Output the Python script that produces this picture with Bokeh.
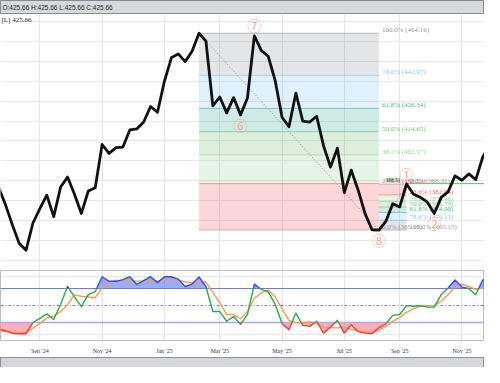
import numpy as np
from bokeh.plotting import figure
from bokeh.models import Range1d
from bokeh.layouts import column
from bokeh.core.properties import value
from bokeh.embed import file_html
from bokeh.resources import INLINE

# ---------------- data ----------------
close = [386.9, 378.2, 368.0, 358.5, 355.0, 368.7, 375.9, 382.7, 371.9, 386.8,
         391.8, 383.2, 373.5, 384.8, 386.4, 408.2, 403.7, 406.6, 406.9, 415.5,
         416.0, 419.5, 427.3, 424.4, 440.0, 451.8, 453.8, 449.9, 455.1, 464.16,
         460.2, 427.6, 432.1, 424.1, 431.8, 423.1, 431.6, 462.8, 455.5, 452.6,
         440.5, 421.9, 417.1, 434.0, 419.9, 419.5, 422.4, 407.5, 396.9, 406.3,
         384.0, 395.3, 385.2, 373.4, 365.3, 365.15, 369.5, 378.4, 376.8, 388.31,
         383.2, 381.6, 379.2, 373.5, 381.6, 384.4, 392.4, 390.2, 393.4, 390.5,
         401.8, 408.2]

stoch_k = [9.2, 6.2, 1.5, 1.0, 1.0, 20.5, 27.7, 35.4, 25.7, 52.3,
           83.0, 65.0, 48.0, 69.0, 74.0, 100.0, 92.0, 92.0, 95.0, 100.0,
           86.6, 93.4, 100.0, 89.7, 100.0, 100.0, 95.8, 83.0, 87.2, 99.5,
           83.0, 39.5, 39.5, 22.6, 30.8, 17.4, 34.3, 87.2, 78.0, 73.8,
           52.3, 18.9, 7.7, 36.9, 15.4, 13.8, 22.6, 2.0, 12.3, 24.2,
           2.0, 16.5, 4.6, 2.0, 1.1, 11.2, 18.0, 32.8, 34.3, 49.7,
           48.8, 49.7, 47.2, 47.2, 68.8, 80.5, 94.3, 82.0, 79.5, 68.8,
           94.3, 94.0]

stoch_d = [7.7, 4.6, 3.5, 3.0, 2.6, 10.8, 18.5, 28.5, 31.5, 39.5,
           51.5, 68.5, 66.0, 65.0, 63.5, 80.5, 89.0, 94.0, 92.3, 93.4,
           92.3, 92.3, 93.4, 92.3, 94.3, 95.8, 94.3, 90.8, 89.2, 90.8,
           90.8, 72.8, 55.0, 34.3, 34.3, 26.6, 39.5, 62.6, 71.8, 77.0,
           65.0, 44.6, 24.2, 20.0, 20.0, 21.5, 18.9, 12.3, 11.2, 11.2,
           12.3, 8.8, 6.2, 3.5, 2.6, 7.7, 13.8, 22.6, 29.2, 38.0,
           44.6, 48.8, 49.7, 49.7, 57.4, 68.8, 83.0, 87.2, 83.0, 78.0,
           80.5, 83.0]

bar_index = list(range(len(close)))

tick_positions = [6, 15, 24, 32, 41, 50, 58, 67]
tick_labels = ["Sep '24", "Nov '24", "Jan '25", "Mar '25",
               "May '25", "Jul '25", "Sep '25", "Nov '25"]
price_grid = [350, 360, 370, 380, 390, 400, 410, 420, 430, 440, 450, 460, 470]
osc_grid = [0, 100]
osc_upper, osc_mid, osc_lower = 80, 50, 20

fib_levels = [0.0, 0.236, 0.382, 0.5, 0.618, 0.786, 1.0]
fib_colors = ["#787b86", "#f23645", "#81c784", "#4caf50", "#089981", "#64b5f6", "#787b86"]
fib_anchors = [(29, 55), (55, 59)]

pivot_bar = 59
pivot_price = 388.51

wave_text = ["⑦", "⑥", "⑧", "①", "②"]
wave_bars = [37, 35, 55, 59, 63]
wave_side = ["above", "below", "below", "above", "below"]

header_text = "O:425.66 H:425.66 L:425.66 C:425.66"
legend_text = "[L] 425.66"

# ---------------- layout ----------------
W = 484
x_lo, x_hi = 0.31, 70.26
xr = Range1d(x_lo, x_hi)
SERIF = value("Liberation Serif")
SANS = value("Liberation Sans")

# header bar
hdr = figure(width=W, height=14, x_range=Range1d(0, 1), y_range=Range1d(0, 1),
             output_backend="svg", toolbar_location=None, min_border=0,
             x_axis_location=None, y_axis_location=None)
hdr.grid.visible = False
hdr.background_fill_color = "#d7dadd"
hdr.border_fill_color = "#d7dadd"
hdr.outline_line_color = "#8a8a8a"
hdr.text(x=[0], y=[0.5], text=[header_text], x_offset=2, text_baseline="middle",
         text_align="left", text_font=SANS, text_font_size=value("6.5px"), text_color="#222222")

# main price pane
main = figure(width=W, height=256, x_range=xr, y_range=Range1d(344.8, 473.6),
              output_backend="svg", toolbar_location=None, min_border=0,
              x_axis_location=None, y_axis_location=None)
main.background_fill_color = "white"
main.border_fill_color = "white"
main.outline_line_color = None
main.xgrid.ticker = tick_positions
main.ygrid.ticker = price_grid
main.xgrid.grid_line_color = "#e4e4e4"
main.ygrid.grid_line_color = "#e8e8e8"

for ia, ib in fib_anchors:
    pa, pb = close[ia], close[ib]
    prices = [pb + L * (pa - pb) for L in fib_levels]
    left, right = min(ia, ib), max(ia, ib)
    n = len(fib_levels)
    main.quad(left=[left] * (n - 1), right=[right] * (n - 1),
              bottom=[min(prices[k - 1], prices[k]) for k in range(1, n)],
              top=[max(prices[k - 1], prices[k]) for k in range(1, n)],
              fill_color=fib_colors[1:], fill_alpha=0.2, line_color=None)
    main.segment(x0=[left] * n, x1=[right] * n, y0=prices, y1=prices,
                 line_color=fib_colors, line_width=1, line_alpha=0.45)
    main.line([ia, ib], [pa, pb], line_dash="1 2", line_color="#8a8a8a", line_width=1)
    main.text(x=[right] * n, y=prices,
              text=[f"{L * 100:.1f}% ({pr:.2f})" for L, pr in zip(fib_levels, prices)],
              text_color=fib_colors, text_alpha=0.8, x_offset=3, y_offset=1,
              text_baseline="bottom", text_align="left", text_font=SERIF,
              text_font_size=value("7px"))

main.ray(x=[pivot_bar], y=[pivot_price], length=0, angle=0,
         line_color="#66bb6a", line_width=1)

main.line(bar_index, close, line_color="#111111", line_width=2.8, line_join="round")

main.text(x=[pivot_bar], y=[pivot_price], text=[f"{pivot_price:.2f}"],
          x_offset=-6, y_offset=-2, text_align="right", text_baseline="bottom",
          text_color="#2e7d32", text_font=SERIF, text_font_style="bold",
          text_font_size=value("5.5px"))

main.text(x=wave_bars, y=[close[i] for i in wave_bars], text=wave_text,
          y_offset=[-10.5 if s == "above" else 10 for s in wave_side],
          text_align="center", text_baseline="middle", text_color="#f4a08a",
          text_alpha=0.9, text_font=value("Noto Sans CJK JP"),
          text_font_size=value("14px"))

main.text(x=[x_lo], y=[473.6], text=[legend_text], x_offset=1, y_offset=1,
          text_align="left", text_baseline="top", text_color="#222222",
          text_font=SERIF, text_font_size=value("7px"))

# oscillator pane
osc = figure(width=W, height=86, x_range=xr, y_range=Range1d(-10.8, 110.8),
             output_backend="svg", toolbar_location=None, min_border=0,
             y_axis_location=None)
osc.background_fill_color = "white"
osc.border_fill_color = "white"
osc.outline_line_color = "#bdbdbd"
osc.xgrid.ticker = tick_positions
osc.ygrid.ticker = osc_grid
osc.xgrid.grid_line_color = "#e4e4e4"
osc.ygrid.grid_line_color = "#e8e8e8"
osc.xaxis.ticker = tick_positions
osc.xaxis.major_label_overrides = dict(zip(tick_positions, tick_labels))
osc.xaxis.axis_line_color = None
osc.xaxis.major_tick_line_color = None
osc.xaxis.minor_tick_line_color = None
osc.xaxis.major_label_standoff = 1
osc.xaxis.major_label_text_font = "Liberation Serif"
osc.xaxis.major_label_text_font_size = "6px"
osc.xaxis.major_label_text_color = "#333333"


def with_crossings(xs, ys, levels):
    X, Y = [xs[0]], [ys[0]]
    for k in range(1, len(xs)):
        x0, y0, x1, y1 = xs[k - 1], ys[k - 1], xs[k], ys[k]
        cuts = []
        for L in levels:
            if (y0 - L) * (y1 - L) < 0:
                cuts.append(((L - y0) / (y1 - y0), L))
        for t, L in sorted(cuts):
            X.append(x0 + t * (x1 - x0))
            Y.append(L)
        X.append(x1)
        Y.append(y1)
    return np.array(X, dtype=float), np.array(Y, dtype=float)


kx, ky = with_crossings(bar_index, stoch_k, [osc_lower, osc_upper])

osc.varea(x=kx, y1=np.full_like(ky, osc_upper), y2=np.maximum(ky, osc_upper),
          fill_color="#3b5bfd", fill_alpha=0.5)
osc.varea(x=kx, y1=np.minimum(ky, osc_lower), y2=np.full_like(ky, osc_lower),
          fill_color="#ff4d5a", fill_alpha=0.45)

osc.hspan(y=[osc_upper], line_color="#6a7fd8", line_width=1)
osc.hspan(y=[osc_lower], line_color="#a9a9e6", line_width=1.6)
osc.hspan(y=[osc_mid], line_color="#7f73c6", line_width=1, line_dash="3 2 1 2")

osc.line(bar_index, stoch_d, line_color="#f39c55", line_width=1.4)

segs_x, segs_y, segs_c = [], [], []


def seg_color(m):
    if m > osc_upper:
        return "#2f4ff0"
    if m < osc_lower:
        return "#f03c3c"
    return "#2ea84a"


cur_c = None
for j in range(len(kx) - 1):
    c = seg_color((ky[j] + ky[j + 1]) / 2)
    if c != cur_c:
        segs_x.append([kx[j]])
        segs_y.append([ky[j]])
        segs_c.append(c)
        cur_c = c
    segs_x[-1].append(kx[j + 1])
    segs_y[-1].append(ky[j + 1])

osc.multi_line(xs=segs_x, ys=segs_y, line_color=segs_c, line_width=1.4, line_join="round")

# footer bar
ftr = figure(width=W, height=11, x_range=Range1d(0, 1), y_range=Range1d(0, 1),
             output_backend="svg", toolbar_location=None, min_border=0,
             x_axis_location=None, y_axis_location=None)
ftr.grid.visible = False
ftr.background_fill_color = "#d4d6d9"
ftr.border_fill_color = "#d4d6d9"
ftr.outline_line_color = "#8f8f8f"

layout = column(hdr, main, osc, ftr, spacing=0)
open("out.html", "w").write(file_html(layout, INLINE))
